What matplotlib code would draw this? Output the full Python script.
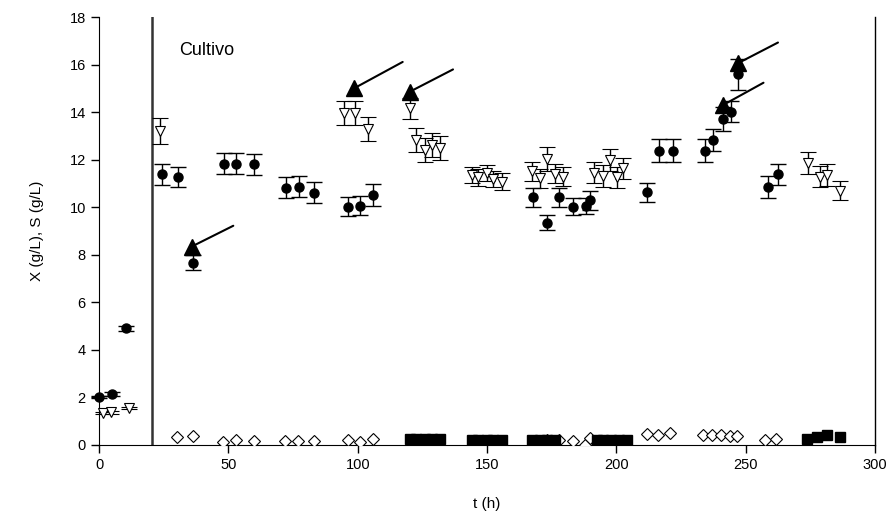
import matplotlib
matplotlib.use("Agg")
import matplotlib.pyplot as plt

plt.rcParams['font.family'] = ['Liberation Sans', 'DejaVu Sans']

# biomasa X (g/L)
x_t = [0, 4.9, 10.3, 24.2, 30.4, 36.5, 48.3, 53, 59.9, 72.3, 77.2, 83.2,
       96.4, 100.9, 105.8, 167.9, 173.1, 177.9, 183.1, 188.2, 189.8, 211.7,
       216.6, 221.7, 234.2, 237.2, 241.1, 244.2, 246.9, 258.7, 262.6]
x_val = [2.0, 2.14, 4.9, 11.38, 11.27, 7.67, 11.82, 11.82, 11.8, 10.82, 10.86, 10.61,
         10.02, 10.05, 10.51, 10.42, 9.35, 10.42, 10.02, 10.05, 10.3, 10.63,
         12.38, 12.38, 12.38, 12.83, 13.72, 14.02, 15.59, 10.84, 11.38]
x_err = [0.05, 0.08, 0.1, 0.43, 0.43, 0.3, 0.44, 0.44, 0.44, 0.45, 0.45, 0.45,
         0.4, 0.4, 0.45, 0.4, 0.33, 0.4, 0.35, 0.35, 0.4, 0.4,
         0.5, 0.5, 0.5, 0.45, 0.5, 0.45, 0.66, 0.45, 0.45]

# sustrato S (g/L)
s_t = [1.5, 4.5, 11.5, 23.6, 94.7, 99, 104.1, 120.2, 122.5, 126, 128.6, 131.8,
       144, 146.6, 149.9, 152.4, 155.7, 167.3, 170.5, 173.3, 176.3, 179.5,
       191.5, 194.7, 197.5, 200.1, 202.4, 274.2, 278.7, 281.3, 286.4]
s_val = [1.35, 1.36, 1.54, 13.2, 13.95, 13.95, 13.3, 14.16, 12.83, 12.4, 12.6, 12.48,
         11.35, 11.26, 11.43, 11.19, 11.07, 11.5, 11.21, 12.01, 11.4, 11.28,
         11.45, 11.31, 11.98, 11.26, 11.63, 11.85, 11.28, 11.35, 10.69]
s_err = [0.05, 0.05, 0.05, 0.55, 0.5, 0.5, 0.5, 0.45, 0.5, 0.5, 0.5, 0.5,
         0.35, 0.35, 0.35, 0.35, 0.35, 0.4, 0.4, 0.5, 0.4, 0.4,
         0.45, 0.45, 0.45, 0.45, 0.45, 0.45, 0.45, 0.45, 0.4]

# S residual en el efluente
d_t = [30.3, 36.5, 48, 52.8, 59.9, 71.9, 77, 83.1, 96.4, 100.9, 106, 168, 173, 178,
       183.3, 187.9, 189.8, 211.7, 216.2, 220.7, 233.6, 236.8, 240.6, 243.9, 246.5,
       257.4, 261.9]
d_val = [0.32, 0.35, 0.11, 0.21, 0.14, 0.18, 0.18, 0.14, 0.21, 0.1, 0.24, 0.0, 0.21, 0.2,
         0.18, 0.0, 0.28, 0.46, 0.43, 0.49, 0.42, 0.42, 0.42, 0.38, 0.38,
         0.21, 0.24]

q_t = [120.2, 122.5, 126, 128.6, 131.8, 144, 146.6, 149.9, 152.4, 155.7,
       167.3, 170.5, 173.3, 176.3, 192.4, 195, 198, 201, 204,
       273.5, 277.4, 281.3, 286.4]
q_val = [0.25, 0.25, 0.25, 0.25, 0.25, 0.21, 0.21, 0.21, 0.21, 0.21,
         0.22, 0.22, 0.22, 0.22, 0.2, 0.2, 0.2, 0.2, 0.2,
         0.24, 0.33, 0.42, 0.33]

# puntos senalados con flecha
a_t = [35.8, 98.6, 120.2, 241.3, 246.9]
a_val = [8.34, 15.0, 14.86, 14.3, 16.05]
a_off = [(30, 15), (35, 19), (31, 16), (29, 16), (29, 15)]

t_inicio = 20.5

fig = plt.figure(figsize=(8.92, 5.16), dpi=100)
ax = fig.add_axes([0.111, 0.138, 0.870, 0.829])

ax.axvline(t_inicio, color='#333333', lw=1.8, zorder=1)

ax.errorbar(d_t, d_val, yerr=0.03, fmt='D', ms=6.5, mfc='white', mec='black',
            mew=0.8, ecolor='black', elinewidth=0.8, capsize=3, zorder=3)
ax.errorbar(q_t, q_val, yerr=0.03, fmt='s', ms=6.5, color='black',
            ecolor='black', elinewidth=0.8, capsize=3, zorder=3)
ax.errorbar(s_t, s_val, yerr=s_err, fmt='v', ms=6.5, mfc='white', mec='black',
            mew=0.8, ecolor='black', elinewidth=1.0, capsize=6, zorder=4,
            clip_on=False)
ax.errorbar(x_t, x_val, yerr=x_err, fmt='o', ms=6.5, color='black',
            ecolor='black', elinewidth=1.0, capsize=6, zorder=5, clip_on=False)
ax.plot(a_t, a_val, '^', ms=11, color='black', zorder=6, ls='none')

for t, v, off in zip(a_t, a_val, a_off):
    ax.annotate('', xy=(t, v), xytext=off, textcoords='offset points',
                arrowprops=dict(arrowstyle='-', color='black', lw=1.5,
                                shrinkA=0, shrinkB=2))

ax.text(31, 16.6, 'Cultivo', fontsize=13, va='center', ha='left')

ax.set_xlim(0, 300)
ax.set_ylim(0, 18)
ax.set_xticks(range(0, 301, 50))
ax.set_yticks(range(0, 19, 2))
ax.tick_params(direction='out', length=6, width=1, labelsize=10.5)
ax.spines['top'].set_visible(False)
ax.spines['right'].set_linewidth(1)
ax.set_xlabel('t (h)', fontsize=11, labelpad=18)
ax.set_ylabel('X (g/L), S (g/L)', fontsize=11, labelpad=18)

fig.savefig('out.png', dpi=100)
